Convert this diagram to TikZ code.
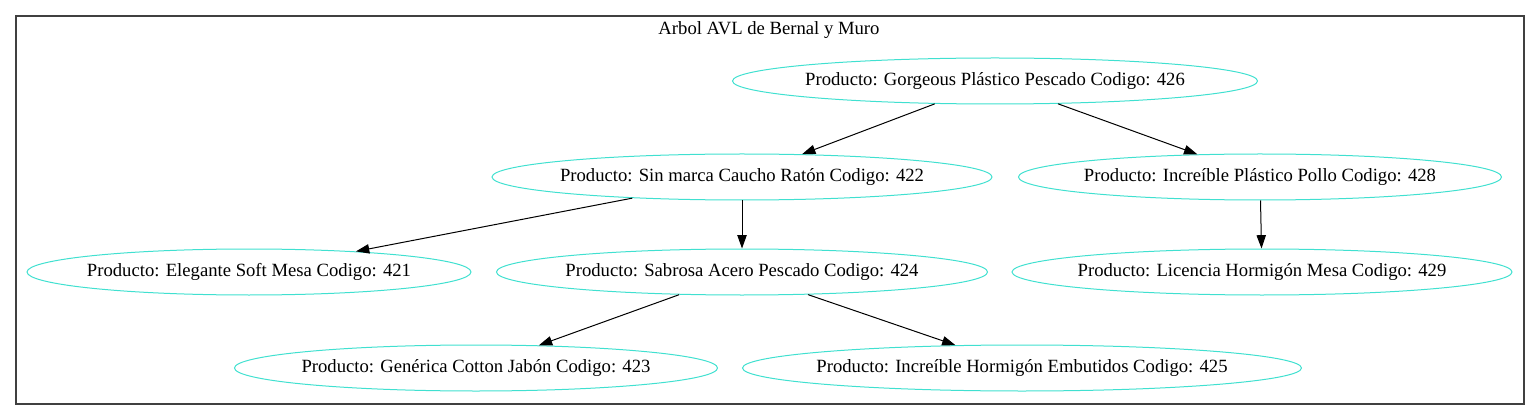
\documentclass[tikz,border=0pt]{standalone}
\usepackage{fontspec}
\setmainfont{Liberation Serif}
\usetikzlibrary{shapes.geometric,arrows.meta}
\tikzset{
  prod/.style={ellipse, draw=turq, line width=0.75pt, inner sep=0pt, minimum height=34.5pt, font=\fontsize{14pt}{16pt}\selectfont},
  edge/.style={draw=black, line width=0.75pt, -{Triangle[length=10pt,width=7pt]}},
  frame/.style={draw=black!75, line width=0.8pt}
}
\definecolor{turq}{HTML}{40E0D0}
\newcommand{\lbl}[1]{\makebox[0pt]{#1}}
\begin{document}
\begin{tikzpicture}[x=0.75pt,y=-0.75pt]
\useasboundingbox (0,0) rectangle (1540,420);
\draw[frame] (16,16) rectangle (1524,404);
\node[font=\fontsize{14pt}{16pt}\selectfont] (title) at (769,30) {Arbol AVL de Bernal y Muro};
\node[prod, minimum width=393.75pt] (n426) at (995,81) {\lbl{Producto: Gorgeous Plástico Pescado Codigo: 426}};
\node[prod, minimum width=375pt] (n422) at (742,177) {\lbl{Producto: Sin marca Caucho Ratón Codigo: 422}};
\node[prod, minimum width=362.25pt] (n428) at (1260,177) {\lbl{Producto: Increíble Plástico Pollo Codigo: 428}};
\node[prod, minimum width=333pt] (n421) at (249,272) {\lbl{Producto: Elegante Soft Mesa Codigo: 421}};
\node[prod, minimum width=368.25pt] (n424) at (742,272) {\lbl{Producto: Sabrosa Acero Pescado Codigo: 424}};
\node[prod, minimum width=375pt] (n429) at (1262,272) {\lbl{Producto: Licencia Hormigón Mesa Codigo: 429}};
\node[prod, minimum width=362.25pt] (n423) at (476,368) {\lbl{Producto: Genérica Cotton Jabón Codigo: 423}};
\node[prod, minimum width=419.25pt] (n425) at (1022,368) {\lbl{Producto: Increíble Hormigón Embutidos Codigo: 425}};
\draw[edge] (n426) -- (n422);
\draw[edge] (n426) -- (n428);
\draw[edge] (n422) -- (n421);
\draw[edge] (n422) -- (n424);
\draw[edge] (n428) -- (n429);
\draw[edge] (n424) -- (n423);
\draw[edge] (n424) -- (n425);
\end{tikzpicture}
\end{document}
